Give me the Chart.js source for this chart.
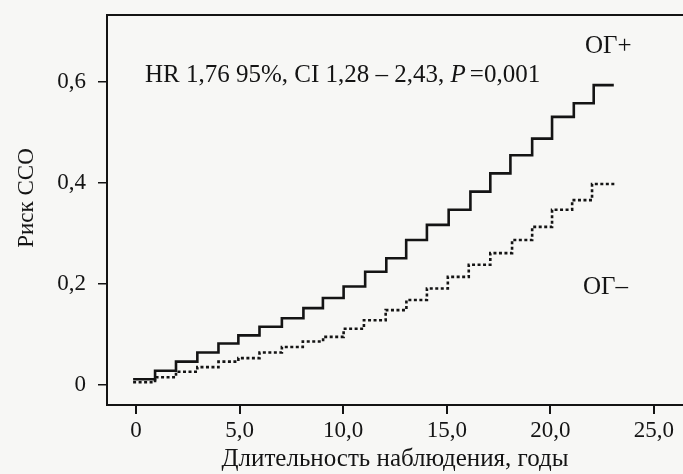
<!DOCTYPE html>
<html lang="ru">
<head>
<meta charset="utf-8">
<title>Риск ССО</title>
<script src="https://cdn.jsdelivr.net/npm/chart.js@4.4.1/dist/chart.umd.min.js"></script>
<style>
	html, body { margin: 0; padding: 0; background: #f7f7f5; }
	#wrap { width: 683px; height: 474px; }
</style>
</head>
<body>
<div id="wrap"><canvas id="km" width="683" height="474"></canvas></div>
<script>
// Step positions (years) and cumulative risk levels
var posX   = [ -0.14, 0.92, 1.93, 2.96, 3.98, 4.94, 5.96, 7.04, 8.08, 9.02, 10.02, 11.06, 12.08, 13.04, 14.04, 15.09, 16.14, 17.10, 18.07, 19.12, 20.08, 21.13, 22.09, 23.06 ];
var posY   = [ 0.011, 0.028, 0.046, 0.064, 0.082, 0.098, 0.115, 0.132, 0.152, 0.172, 0.195, 0.224, 0.251, 0.287, 0.317, 0.347, 0.383, 0.419, 0.455, 0.488, 0.531, 0.558, 0.594, 0.594 ];
var negX   = [ -0.14, 0.92, 1.93, 2.96, 3.98, 4.94, 5.96, 7.04, 8.05, 9.03, 10.02, 11.00, 12.05, 13.05, 14.04, 15.05, 16.06, 17.10, 18.15, 19.12, 20.08, 21.05, 22.01, 23.14 ];
var negY   = [ 0.005, 0.015, 0.026, 0.035, 0.046, 0.053, 0.064, 0.075, 0.086, 0.095, 0.111, 0.128, 0.148, 0.168, 0.191, 0.214, 0.238, 0.261, 0.287, 0.313, 0.347, 0.366, 0.398, 0.398 ];
var xTicks = [ 0, 5, 10, 15, 20, 25 ];
var yTicks = [ 0, 0.2, 0.4, 0.6 ];

var INK   = '#141414';
var SERIF = '"Liberation Serif", "DejaVu Serif", serif';

function toPoints( xs, ys ) {
	return xs.map( function ( x, i ) { return { x : x, y : ys[ i ] }; } );
}

function comma( v, digits ) {
	if ( v === 0 ) {
		return '0';
	}
	return v.toFixed( digits ).replace( '.', ',' );
}

// Frame top edge, y title and the text labels inside the plot
var annotations = {
	id : 'annotations',
	afterDraw : function ( chart ) {
		var ctx  = chart.ctx;
		var area = chart.chartArea;
		ctx.save();
		ctx.strokeStyle = INK;
		ctx.lineWidth   = 2;
		ctx.beginPath();
		ctx.moveTo( area.left, area.top );
		ctx.lineTo( area.right, area.top );
		ctx.stroke();

		ctx.fillStyle    = INK;
		ctx.textBaseline = 'middle';
		ctx.textAlign    = 'left';
		ctx.font = '25px ' + SERIF;
		var hr = 'HR 1,76 95%, CI 1,28 – 2,43, ';
		var x0 = area.left + 38;
		var y0 = area.top + 60;
		ctx.fillText( hr, x0, y0 );
		var w = ctx.measureText( hr ).width;
		ctx.font = 'italic 25px ' + SERIF;
		ctx.fillText( 'P', x0 + w, y0 );
		w += ctx.measureText( 'P' ).width + 4;
		ctx.font = '25px ' + SERIF;
		ctx.fillText( '=0,001', x0 + w, y0 );

		ctx.fillText( 'ОГ+', area.left + 478, area.top + 31 );
		ctx.fillText( 'ОГ–', area.left + 476, area.top + 272 );

		// y axis title
		ctx.translate( 27, 198 );
		ctx.rotate( -Math.PI / 2 );
		ctx.textAlign = 'center';
		ctx.font = '23px ' + SERIF;
		ctx.fillText( 'Риск ССО', 0, 0 );
		ctx.restore();
	},
};

new Chart( document.getElementById( 'km' ), {
	type : 'line',
	data : {
		datasets : [
			{
				label       : 'ОГ+',
				data        : toPoints( posX, posY ),
				borderColor : INK,
				borderWidth : 2.6,
				stepped     : true,
				pointRadius : 0,
				fill        : false,
			},
			{
				label       : 'ОГ–',
				data        : toPoints( negX, negY ),
				borderColor : INK,
				borderWidth : 2.6,
				borderDash  : [ 3, 2.5 ],
				stepped     : true,
				pointRadius : 0,
				fill        : false,
			},
		],
	},
	options : {
		responsive : false,
		animation  : false,
		layout     : { padding : { top : 15, right : 0, left : 0, bottom : 0 } },
		plugins    : {
			legend  : { display : false },
			tooltip : { enabled : false },
		},
		scales : {
			x : {
				type : 'linear',
				min  : -1.4,
				max  : 26.4,
				afterBuildTicks : function ( scale ) {
					scale.ticks = xTicks.map( function ( v ) { return { value : v }; } );
				},
				afterFit : function ( scale ) {
					scale.height = 69;
					scale.paddingLeft = 0;
					scale.paddingRight = 0;
				},
				ticks : {
					color    : INK,
					padding  : 3,
					maxRotation : 0,
					font     : { family : SERIF, size : 23 },
					callback : function ( v ) { return comma( v, 1 ); },
				},
				grid   : { drawOnChartArea : false, drawTicks : true, tickLength : 9, color : INK, lineWidth : 2 },
				border : { display : true, color : INK, width : 2 },
				title  : {
					display : true,
					text    : 'Длительность наблюдения, годы',
					color   : INK,
					font    : { family : SERIF, size : 25 },
					padding : { top : 0, bottom : 0 },
				},
			},
			y : {
				min : -0.04,
				max : 0.733,
				afterBuildTicks : function ( scale ) {
					scale.ticks = yTicks.map( function ( v ) { return { value : v }; } );
				},
				afterFit : function ( scale ) {
					scale.width = 107;
					scale.paddingTop = 0;
					scale.paddingBottom = 0;
				},
				ticks : {
					color    : INK,
					padding  : 12,
					font     : { family : SERIF, size : 23 },
					callback : function ( v ) { return comma( v, 1 ); },
				},
				grid   : { drawOnChartArea : false, drawTicks : true, tickLength : 9, color : INK, lineWidth : 1.5 },
				border : { display : true, color : INK, width : 2 },
			},
		},
	},
	plugins : [ annotations ],
} );
</script>
</body>
</html>
